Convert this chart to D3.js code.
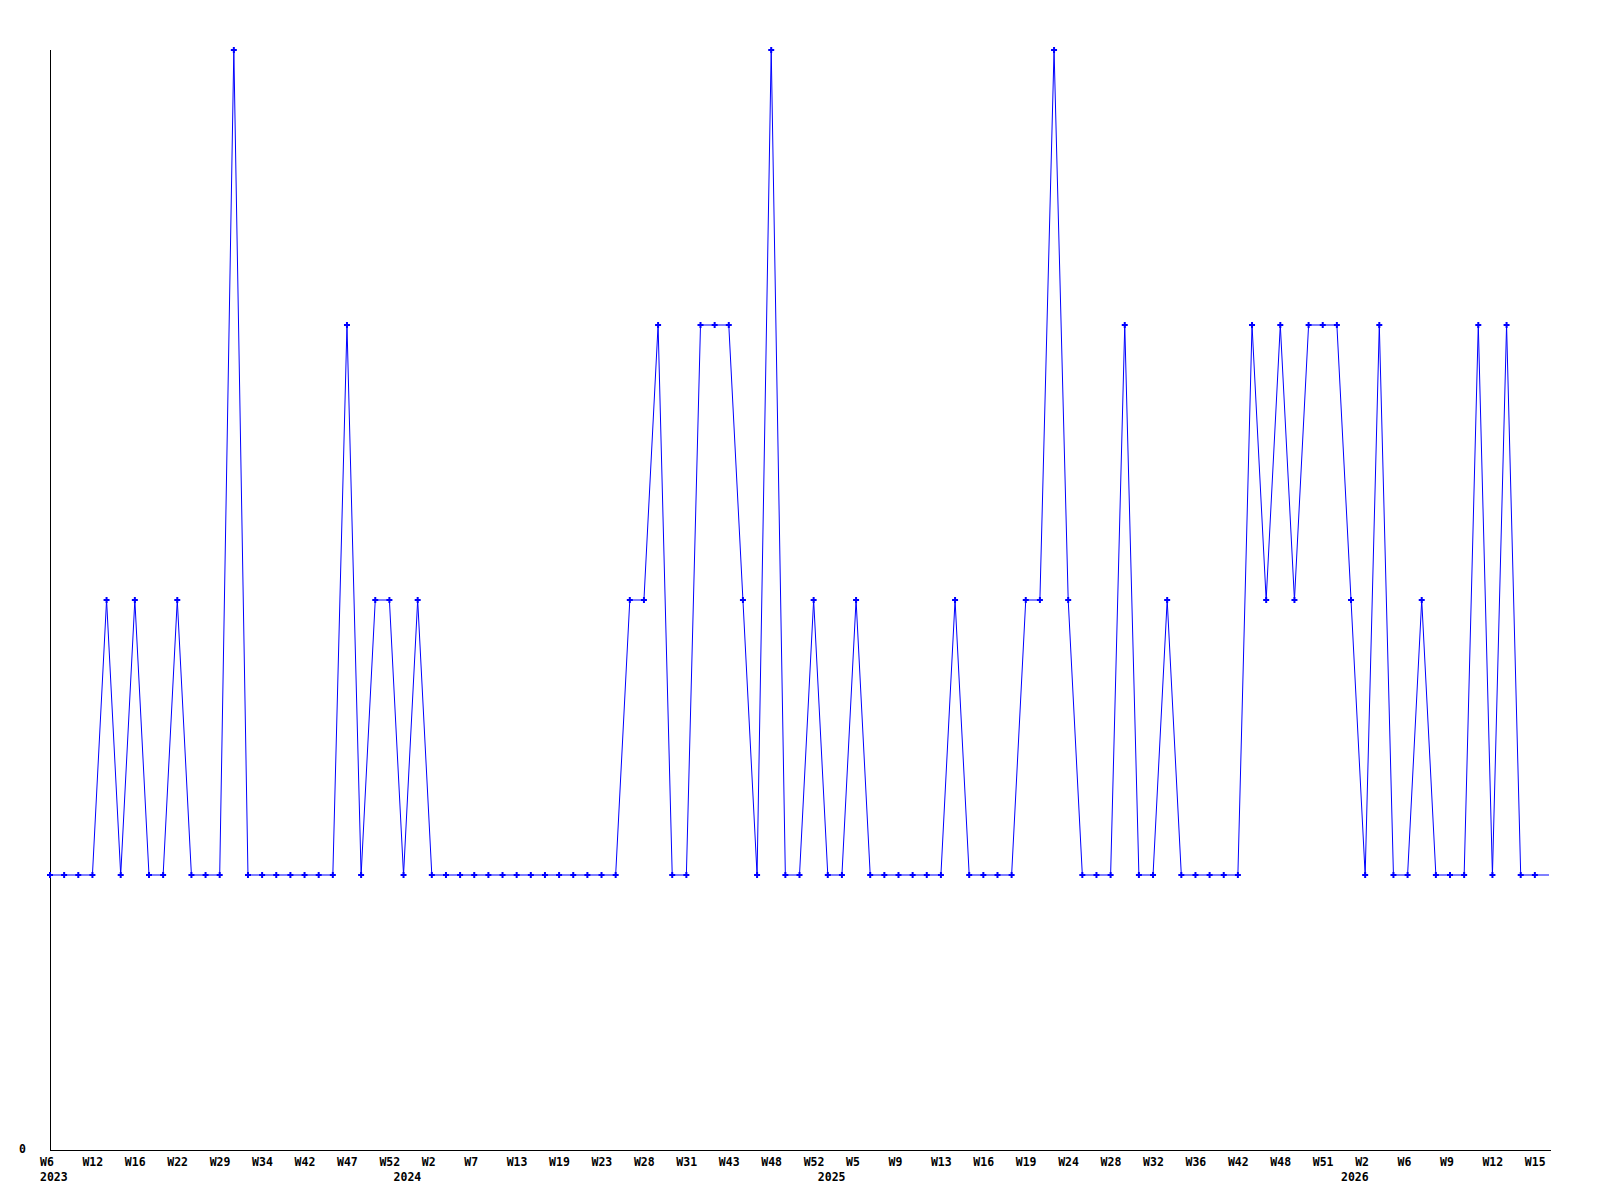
<!DOCTYPE html>
<html>
<head>
<meta charset="utf-8">
<script src="https://cdn.jsdelivr.net/npm/d3@7"></script>
<style>
  html, body { margin: 0; padding: 0; background: #fff; }
  svg { display: block; }
  text { font-family: "DejaVu Sans Mono", "Liberation Mono", monospace; font-weight: bold; font-size: 11.5px; fill: #000; }
</style>
</head>
<body>
<svg id="chart" width="1600" height="1200"></svg>
<script>
// Values per sample (evenly spaced samples)
const values = [
  1,1,1,1,2,1,2,1,1,2,
  1,1,1,4,1,1,1,1,1,1,
  1,3,1,2,2,1,2,1,1,1,
  1,1,1,1,1,1,1,1,1,1,
  1,2,2,3,1,1,3,3,3,2,
  1,4,1,1,2,1,1,2,1,1,
  1,1,1,1,2,1,1,1,1,2,
  2,4,2,1,1,1,3,1,1,2,
  1,1,1,1,1,3,2,3,2,3,
  3,3,2,1,3,1,1,2,1,1,
  1,3,1,3,1,1,1
];
// Tick labels: one every 3 samples
const weekLabels = [
  "W6","W12","W16","W22","W29","W34","W42","W47","W52",
  "W2","W7","W13","W19","W23","W28","W31","W43","W48",
  "W52","W5","W9","W13","W16","W19","W24","W28","W32",
  "W36","W42","W48","W51","W2","W6","W9","W12","W15"
];
const tickStep = 3;
// Year labels: sample index where each year starts
const yearNames = ["2023","2024","2025","2026"];
const yearIndex = [0, 25, 55, 92];
const yTickValues = [0];

const svg = d3.select("#chart");
const mLeft = 50, mRight = 1549, mTop = 50, mBottom = 1150;

const x = d3.scaleLinear().domain([0, values.length - 1]).range([mLeft, mRight]);
const y = d3.scaleLinear().domain([0, 4]).range([mBottom, mTop]);

// axes lines
svg.append("line").attr("x1", mLeft + 0.5).attr("x2", mLeft + 0.5)
  .attr("y1", mTop).attr("y2", mBottom + 1)
  .attr("stroke", "#000").attr("stroke-width", 1).attr("shape-rendering", "crispEdges");
svg.append("line").attr("x1", mLeft).attr("x2", mRight + 2)
  .attr("y1", mBottom + 0.5).attr("y2", mBottom + 0.5)
  .attr("stroke", "#000").attr("stroke-width", 1).attr("shape-rendering", "crispEdges");

// y tick labels
svg.selectAll("text.ytick").data(yTickValues).enter().append("text")
  .attr("class", "ytick")
  .attr("x", 26).attr("y", d => y(d) + 3)
  .attr("text-anchor", "end")
  .text(d => d);

// x tick labels
svg.selectAll("text.xtick").data(weekLabels).enter().append("text")
  .attr("class", "xtick")
  .attr("x", (d, i) => x(i * tickStep) - 10)
  .attr("y", mBottom + 16)
  .attr("text-anchor", "start")
  .text(d => d);

// year labels
svg.selectAll("text.year").data(yearNames).enter().append("text")
  .attr("class", "year")
  .attr("x", (d, i) => x(yearIndex[i]) - 10)
  .attr("y", mBottom + 31)
  .attr("text-anchor", "start")
  .text(d => d);

// line
const line = d3.line().x((d, i) => x(i)).y(d => y(d));
svg.append("path").datum(values)
  .attr("d", line)
  .attr("fill", "none")
  .attr("stroke", "#0000ff")
  .attr("stroke-width", 1);

// markers (all but the last, current sample)
const sym = d3.symbol().type(d3.symbolCross).size(20);
svg.selectAll("path.pt").data(values.slice(0, values.length - 1)).enter().append("path")
  .attr("class", "pt")
  .attr("d", sym)
  .attr("transform", (d, i) => `translate(${x(i)},${y(d)})`)
  .attr("fill", "#0000ff");
</script>
</body>
</html>
